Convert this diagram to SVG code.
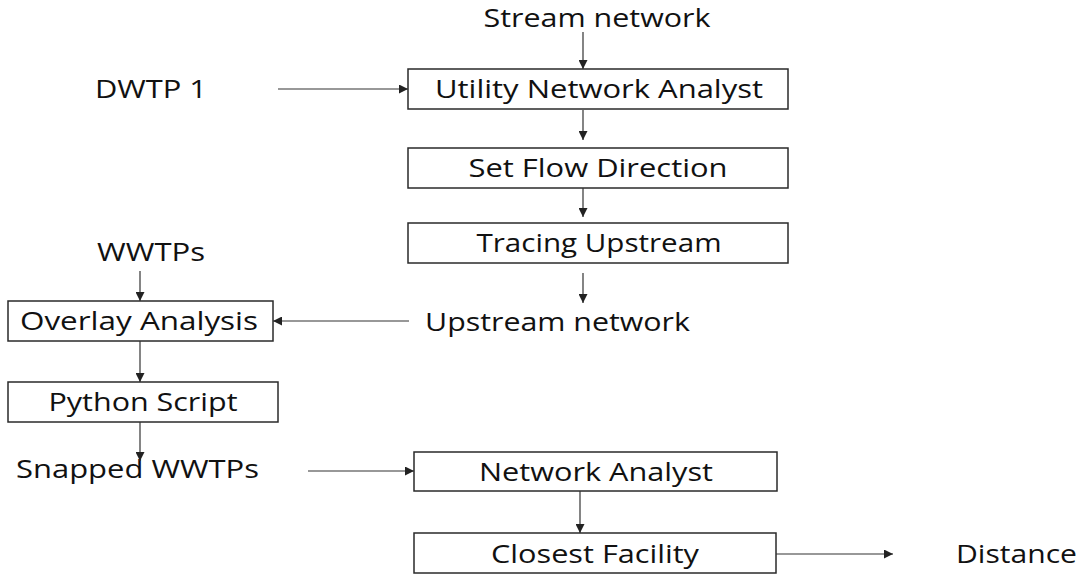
<svg xmlns="http://www.w3.org/2000/svg" width="1082" height="575" viewBox="0 0 1082 575">
  <style>
    text { font-family: "Open Sans", "Noto Sans", sans-serif; font-size: 25px; fill: #111; }
    .box { fill: #fff; stroke: #2a2a2a; stroke-width: 1.5; }
    .mid { text-anchor: middle; }
    .conn line { stroke: #333; stroke-width: 1.2; marker-end: url(#arrow); }
  </style>
  <defs>
    <marker id="arrow" viewBox="0 0 10 10" refX="10" refY="5" markerWidth="10" markerHeight="9" markerUnits="userSpaceOnUse" orient="auto">
      <path d="M0,0 L10,5 L0,10 Z" fill="#222"/>
    </marker>
  </defs>
  <rect width="1082" height="575" fill="#fff"/>

  <!-- data labels -->
  <g id="stream-network"><text class="mid" x="597" y="27" textLength="227" lengthAdjust="spacingAndGlyphs">Stream network</text></g>
  <g id="dwtp1"><text x="95" y="98" textLength="112" lengthAdjust="spacingAndGlyphs">DWTP 1</text></g>
  <g id="wwtps"><text x="97" y="261" textLength="108" lengthAdjust="spacingAndGlyphs">WWTPs</text></g>
  <g id="upstream-network"><text x="425" y="331" textLength="265" lengthAdjust="spacingAndGlyphs">Upstream network</text></g>
  <g id="snapped-wwtps"><text x="16" y="478" textLength="243" lengthAdjust="spacingAndGlyphs">Snapped WWTPs</text></g>
  <g id="distance"><text x="956" y="563" textLength="121" lengthAdjust="spacingAndGlyphs">Distance</text></g>

  <!-- processing steps -->
  <g id="utility-network-analyst">
    <rect class="box" x="408" y="69" width="380" height="40"/>
    <text class="mid" x="599" y="98" textLength="328" lengthAdjust="spacingAndGlyphs">Utility Network Analyst</text>
  </g>
  <g id="set-flow-direction">
    <rect class="box" x="408" y="148" width="380" height="40"/>
    <text class="mid" x="598" y="177" textLength="259" lengthAdjust="spacingAndGlyphs">Set Flow Direction</text>
  </g>
  <g id="tracing-upstream">
    <rect class="box" x="408" y="223" width="380" height="40"/>
    <text class="mid" x="599" y="252" textLength="245" lengthAdjust="spacingAndGlyphs">Tracing Upstream</text>
  </g>
  <g id="overlay-analysis">
    <rect class="box" x="8" y="301" width="265" height="40"/>
    <text class="mid" x="139" y="330" textLength="238" lengthAdjust="spacingAndGlyphs">Overlay Analysis</text>
  </g>
  <g id="python-script">
    <rect class="box" x="8" y="382" width="270" height="40"/>
    <text class="mid" x="143" y="411" textLength="189" lengthAdjust="spacingAndGlyphs">Python Script</text>
  </g>
  <g id="network-analyst">
    <rect class="box" x="414" y="452" width="363" height="39"/>
    <text class="mid" x="596" y="481" textLength="234" lengthAdjust="spacingAndGlyphs">Network Analyst</text>
  </g>
  <g id="closest-facility">
    <rect class="box" x="414" y="533" width="362" height="40"/>
    <text class="mid" x="595" y="563" textLength="208" lengthAdjust="spacingAndGlyphs">Closest Facility</text>
  </g>

  <!-- connectors -->
  <g id="connectors" class="conn">
    <line x1="583" y1="32" x2="583" y2="69"/>
    <line x1="278" y1="89" x2="408" y2="89"/>
    <line x1="583" y1="110" x2="583" y2="140"/>
    <line x1="583" y1="188" x2="583" y2="217"/>
    <line x1="583" y1="273" x2="583" y2="303"/>
    <line x1="140" y1="271" x2="140" y2="301"/>
    <line x1="409" y1="321" x2="273" y2="321"/>
    <line x1="140" y1="341" x2="140" y2="382"/>
    <line x1="140" y1="422" x2="140" y2="461"/>
    <line x1="308" y1="471" x2="414" y2="471"/>
    <line x1="580" y1="491" x2="580" y2="533"/>
    <line x1="776" y1="554" x2="893" y2="554"/>
  </g>
</svg>
